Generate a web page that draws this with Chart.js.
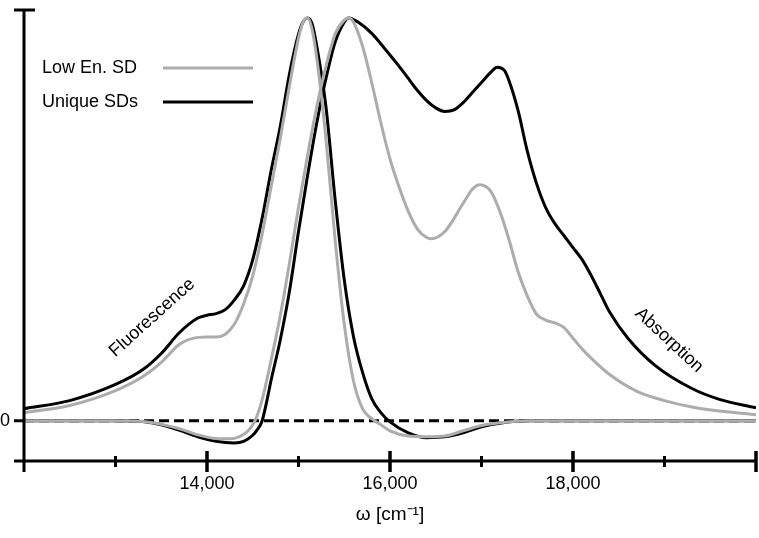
<!DOCTYPE html>
<html>
<head>
<meta charset="utf-8">
<script src="https://cdn.jsdelivr.net/npm/chart.js@4.4.1/dist/chart.umd.min.js"></script>
<style>
  body { margin: 0; background: #fff; }
  canvas { display: block; }
</style>
</head>
<body>
<canvas id="myChart" width="759" height="538"></canvas>
<script>
// wavenumbers (cm^-1) and normalised intensities
const fluorUniqueX = [12000, 12500, 13000, 13300, 13500, 13700, 13900, 14000, 14100, 14200, 14300, 14400, 14500, 14600, 14700, 14800, 14900, 15000, 15050, 15100, 15150, 15200, 15300, 15400, 15500, 15600, 15700, 15800, 15900, 16000, 16200, 16400, 16600, 16800, 17000, 17200, 17500, 18000, 20000];
const fluorUniqueY = [0.030, 0.050, 0.090, 0.127, 0.167, 0.219, 0.255, 0.262, 0.266, 0.276, 0.300, 0.335, 0.40, 0.50, 0.62, 0.73, 0.86, 0.96, 0.99, 1.0, 0.985, 0.93, 0.78, 0.55, 0.35, 0.21, 0.12, 0.055, 0.02, -0.003, -0.03, -0.042, -0.04, -0.03, -0.015, -0.006, 0, 0, 0];

const fluorLowX = [12000, 12500, 13000, 13300, 13500, 13700, 13900, 14000, 14100, 14200, 14300, 14400, 14500, 14600, 14700, 14800, 14900, 15000, 15050, 15100, 15150, 15200, 15300, 15400, 15500, 15600, 15700, 15800, 15900, 16000, 16200, 16400, 16600, 16800, 17000, 17200, 17500, 18000, 20000];
const fluorLowY = [0.020, 0.038, 0.075, 0.11, 0.145, 0.19, 0.207, 0.208, 0.208, 0.215, 0.24, 0.29, 0.36, 0.46, 0.58, 0.70, 0.83, 0.95, 0.99, 1.0, 0.97, 0.90, 0.70, 0.45, 0.24, 0.10, 0.03, 0.005, -0.01, -0.025, -0.038, -0.04, -0.038, -0.025, -0.012, -0.005, 0, 0, 0];

const absUniqueX = [12000, 13000, 13300, 13500, 13700, 13900, 14100, 14300, 14400, 14500, 14550, 14600, 14650, 14700, 14800, 14900, 15000, 15100, 15200, 15300, 15400, 15500, 15550, 15650, 15800, 15950, 16100, 16200, 16300, 16400, 16500, 16600, 16700, 16800, 16900, 17000, 17100, 17170, 17250, 17300, 17400, 17500, 17600, 17700, 17800, 17900, 18000, 18100, 18200, 18300, 18400, 18600, 18900, 19300, 19600, 20000];
const absUniqueY = [0, 0, -0.002, -0.01, -0.024, -0.04, -0.051, -0.055, -0.051, -0.036, -0.022, -0.002, 0.045, 0.10, 0.20, 0.32, 0.47, 0.61, 0.74, 0.85, 0.94, 0.99, 1.0, 0.99, 0.962, 0.922, 0.88, 0.85, 0.82, 0.795, 0.777, 0.768, 0.772, 0.79, 0.815, 0.84, 0.865, 0.878, 0.87, 0.845, 0.77, 0.67, 0.59, 0.53, 0.49, 0.46, 0.43, 0.40, 0.36, 0.315, 0.27, 0.205, 0.137, 0.08, 0.053, 0.032];

const absLowX = [12000, 13000, 13300, 13500, 13700, 13900, 14100, 14250, 14350, 14450, 14525, 14600, 14700, 14800, 14900, 15000, 15100, 15200, 15300, 15400, 15500, 15550, 15600, 15700, 15800, 15900, 16000, 16100, 16200, 16300, 16400, 16450, 16600, 16800, 16900, 16980, 17100, 17200, 17300, 17400, 17500, 17600, 17700, 17800, 17900, 18000, 18100, 18200, 18400, 18700, 19000, 19300, 19600, 20000];
const absLowY = [0, 0, -0.002, -0.009, -0.02, -0.035, -0.044, -0.045, -0.04, -0.025, 0, 0.05, 0.15, 0.26, 0.39, 0.53, 0.66, 0.78, 0.88, 0.96, 0.995, 1.0, 0.99, 0.93, 0.84, 0.74, 0.65, 0.58, 0.52, 0.476, 0.455, 0.452, 0.47, 0.54, 0.575, 0.586, 0.57, 0.52, 0.45, 0.37, 0.31, 0.265, 0.25, 0.243, 0.232, 0.205, 0.178, 0.155, 0.115, 0.073, 0.05, 0.034, 0.024, 0.015];

const xLabelled = [14000, 16000, 18000];
const seriesNames = ['Low En. SD', 'Unique SDs'];

const GREY = 'rgb(172,172,172)';
const FONT = "'Liberation Sans', Helvetica, Arial, sans-serif";

const toPoints = (xs, ys) => xs.map((x, i) => ({x: x, y: ys[i]}));

const curve = (xs, ys, color) => ({
    data: toPoints(xs, ys),
    borderColor: color,
    borderWidth: 3,
    pointRadius: 0,
    fill: false,
    cubicInterpolationMode: 'monotone'
});

// no extra padding for edge labels, so the plot area sits where the figure has it
const noEdgePadding = s => {
    s.paddingTop = 0;
    s.paddingBottom = 0;
    s.paddingLeft = 0;
    s.paddingRight = 0;
};

// axis lines with ticks through them, legend and the two labels along the curves
const decorations = {
    id: 'decorations',
    afterDraw(chart) {
        const ctx = chart.ctx;
        const xs = chart.scales.x;
        const ys = chart.scales.y;
        const x0 = xs.left;
        const yAxis = ys.bottom;
        const y0 = ys.getPixelForValue(0);
        ctx.save();
        ctx.strokeStyle = '#000';
        ctx.lineCap = 'butt';
        ctx.lineWidth = 3;
        ctx.beginPath();
        // y axis + top cap + zero tick
        ctx.moveTo(x0, ys.top); ctx.lineTo(x0, yAxis + 11);
        ctx.moveTo(x0 - 10, ys.top); ctx.lineTo(x0 + 11, ys.top);
        ctx.moveTo(x0 - 10, y0); ctx.lineTo(x0, y0);
        // x axis
        ctx.moveTo(x0 - 10, yAxis); ctx.lineTo(xs.right, yAxis);
        ctx.stroke();
        for (let v = 13000; v <= 20000; v += 1000) {
            const px = xs.getPixelForValue(v);
            const major = v % 2000 === 0;
            ctx.lineWidth = major ? 3.5 : 3;
            ctx.beginPath();
            ctx.moveTo(px, yAxis - (major ? 10 : 5));
            ctx.lineTo(px, yAxis + (major ? 11 : 6));
            ctx.stroke();
        }

        // legend
        ctx.font = '18px ' + FONT;
        ctx.fillStyle = '#000';
        ctx.textBaseline = 'middle';
        ctx.textAlign = 'left';
        const colors = [GREY, '#000'];
        seriesNames.forEach((name, i) => {
            const ly = 68 + i * 34;
            ctx.fillText(name, 42, ly);
            ctx.strokeStyle = colors[i];
            ctx.lineWidth = 3;
            ctx.beginPath();
            ctx.moveTo(163, ly);
            ctx.lineTo(253, ly);
            ctx.stroke();
        });

        // rotated labels
        ctx.textAlign = 'center';
        ctx.save();
        ctx.translate(xs.getPixelForValue(13400), ys.getPixelForValue(0.256));
        ctx.rotate(-42 * Math.PI / 180);
        ctx.fillText('Fluorescence', 0, 0);
        ctx.restore();
        ctx.save();
        ctx.translate(xs.getPixelForValue(19050), ys.getPixelForValue(0.2));
        ctx.rotate(43 * Math.PI / 180);
        ctx.fillText('Absorption', 0, 0);
        ctx.restore();
        ctx.restore();
    }
};

Chart.defaults.font.family = FONT;
Chart.defaults.font.size = 18;
Chart.defaults.color = '#000';

const data = {
    datasets: [
        curve(fluorLowX, fluorLowY, GREY),
        curve(absLowX, absLowY, GREY),
        curve(fluorUniqueX, fluorUniqueY, '#000'),
        curve(absUniqueX, absUniqueY, '#000'),
        {
            data: [{x: 12000, y: 0}, {x: 20000, y: 0}],
            borderColor: '#000',
            borderWidth: 3,
            borderDash: [10, 5],
            pointRadius: 0
        }
    ]
};

const config = {
    type: 'line',
    data: data,
    options: {
        responsive: false,
        animation: false,
        layout: { padding: { top: 10, right: 3, left: 0, bottom: 0 } },
        plugins: { legend: { display: false }, tooltip: { enabled: false } },
        scales: {
            x: {
                type: 'linear',
                min: 12000,
                max: 20000,
                afterFit: s => { s.height = 77; noEdgePadding(s); },
                grid: { display: false, drawTicks: false },
                border: { display: false },
                ticks: {
                    stepSize: 1000,
                    autoSkip: false,
                    maxRotation: 0,
                    padding: 12,
                    callback: v => xLabelled.includes(v) ? v.toLocaleString('en-US') : ''
                },
                title: { display: true, text: 'ω [cm⁻¹]', font: { size: 19 }, padding: { top: 4, bottom: 12 } }
            },
            y: {
                min: -0.1,
                max: 1.02,
                afterFit: s => { s.width = 24; noEdgePadding(s); },
                afterBuildTicks: s => { s.ticks = [{value: 0}]; },
                grid: { display: false, drawTicks: false },
                border: { display: false },
                ticks: { padding: 14 }
            }
        }
    },
    plugins: [decorations]
};

const myChart = new Chart(document.getElementById('myChart'), config);
</script>
</body>
</html>
